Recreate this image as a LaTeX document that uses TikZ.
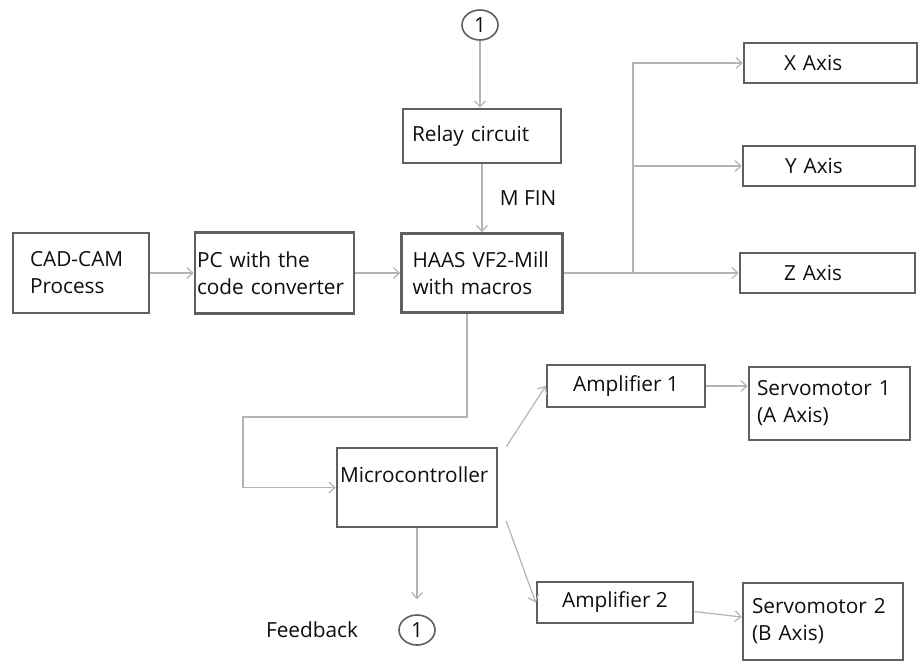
\documentclass[tikz,border=0pt]{standalone}
\usepackage{fontspec}
\setmainfont{Open Sans}
\usepackage{tikz}
\usetikzlibrary{shapes.geometric, arrows.meta, positioning}
\definecolor{boxgray}{RGB}{95,95,95}
\definecolor{wiregray}{RGB}{180,180,180}
\definecolor{txtblack}{RGB}{15,15,15}

\begin{document}
\begin{tikzpicture}[x=1pt, y=-1pt,
        blk/.style={draw=boxgray, line width=2.6pt, inner ysep=0pt, align=left, text=txtblack, font=\fontsize{20.8}{27}\selectfont},
        jump/.style={ellipse, draw=boxgray, line width=1.6pt, minimum width=36pt, minimum height=30pt, inner sep=0pt, text=txtblack, font=\fontsize{20.8}{24}\selectfont},
        lbl/.style={text=txtblack, font=\fontsize{20.8}{24}\selectfont},
        wire/.style={draw=wiregray, line width=1.2pt},
        arr/.style={wire, -{Straight Barb[length=6pt, width=11pt]}}]
        \path[fill=white] (0,0) rectangle (918,662);
        \useasboundingbox (0,0) rectangle (918,662);

        % main line
        \node[blk, minimum height=80pt, text width=102pt, inner xsep=17pt] (cad) at (81,273) {CAD-CAM\\Process};
        \node[blk, minimum height=81pt, text width=155pt, inner xsep=2pt] (pc) at (274.5,273) {PC with the\\code converter};
        \node[blk, minimum height=79pt, text width=139pt, inner xsep=11pt] (haas) at (482,273) {HAAS VF2-Mill\\with macros};
        \node[blk, minimum height=54pt, text width=140pt, inner xsep=9pt] (relay) at (482,136) {Relay circuit};
        \node[jump] (onetop) at (480,25) {1};

        % axes
        \node[blk, minimum height=40pt, text width=93pt, inner xsep=40pt] (xax) at (830.5,63) {X Axis};
        \node[blk, minimum height=40pt, text width=88pt, inner xsep=42pt] (yax) at (829,166) {Y Axis};
        \node[blk, minimum height=40pt, text width=87pt, inner xsep=44pt] (zax) at (827.5,273) {Z Axis};

        % control part
        \node[blk, text width=154pt, inner xsep=3pt, text height=34pt, text depth=45pt] (micro) at (417,487.5) {Microcontroller};
        \node[blk, minimum width=158pt, minimum height=42pt] (amp1) at (626,386) {Amplifier 1};
        \node[blk, minimum width=156pt, minimum height=41pt] (amp2) at (615,602.5) {Amplifier 2};
        \node[blk, minimum height=73pt, text width=145pt, inner xsep=8pt] (servo1) at (829.5,403.5) {Servomotor 1\\(A Axis)};
        \node[blk, minimum height=77pt, text width=142pt, inner xsep=9pt] (servo2) at (823,621.5) {Servomotor 2\\(B Axis)};
        \node[jump] (onebot) at (417,630) {1};
        \node[lbl] (fb) at (312,630) {Feedback};

        \coordinate (split) at (633,273);
        \coordinate (bend) at (243,417);

        \draw[arr] (onetop.south) -- (onetop.south |- relay.north);
        \draw[arr] (relay) -- node[lbl, right=14pt] {M FIN} (haas);
        \draw[arr] (cad) -- (pc);
        \draw[arr] (pc) -- (haas);
        \draw[arr] (haas) -- (zax);
        \draw[arr] (split) |- (xax);
        \draw[arr] (split |- yax) -- (yax);
        \draw[arr] ([xshift=-15pt]haas.south) |- (bend) |- (micro);
        \draw[arr, shorten >=15pt] (micro) -- (onebot);
        \draw[arr] ([xshift=8pt]micro.north east) -- (amp1.west);
        \draw[arr] ([xshift=8pt, yshift=7pt]micro.south east) -- (amp2.west);
        \draw[arr] (amp1) -- (amp1 -| servo1.west);
        \draw[arr] (amp2) -- ([yshift=4.5pt]servo2.west);
    \end{tikzpicture}
\end{document}
